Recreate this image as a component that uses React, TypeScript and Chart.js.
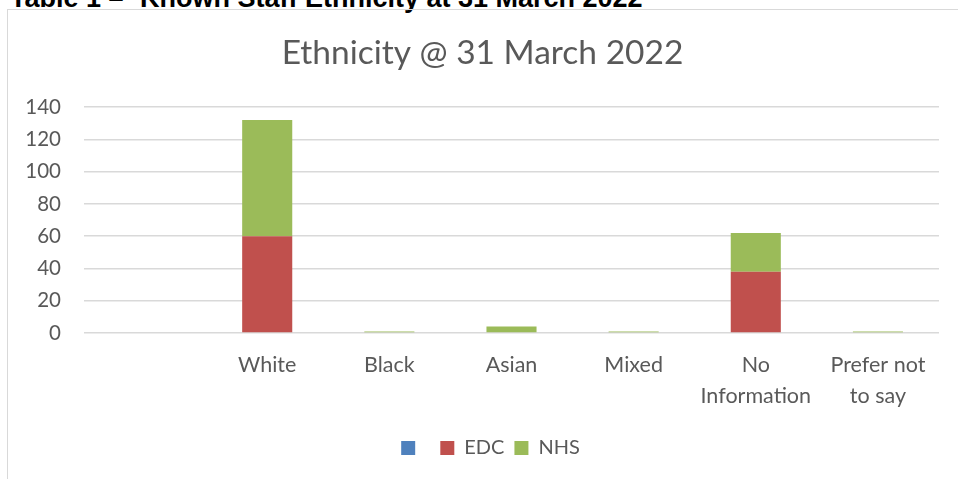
import React, { useEffect, useRef } from "react";
import { Chart, registerables } from "chart.js";

Chart.register(...registerables);

const categories: (string | string[])[] = ["", "White", "Black", "Asian", "Mixed", ["No", "Information"], ["Prefer not", "to say"]];
const blankValues: (number | null)[] = [null, null, null, null, null, null, null];
const edcValues: number[] = [0, 60, 0, 0, 0, 38, 0];
const nhsValues: number[] = [0, 72, 1, 4, 1, 24, 1];
const yTicks = { min: 0, max: 140, step: 20 };
const chartTitle = "Ethnicity @ 31 March 2022";
const seriesNames = [" ", "EDC", "NHS"];

const FONT = "Lato, 'Open Sans', sans-serif";
const GREY = "#595959";

// shift title / legend horizontally to match the reference's centring
const shiftPlugin = {
  id: "shiftBlocks",
  afterLayout(chart: any) {
    const t = chart.titleBlock;
    if (t) { t.left += 13; t.right += 13; }
    const l = chart.legend;
    if (l) { l.left += 21; l.right += 21; }
  },
};

export default function App() {
  const ref = useRef<HTMLCanvasElement | null>(null);

  useEffect(() => {
    if (!ref.current) return;
    const chart = new Chart(ref.current, {
      type: "bar",
      data: {
        labels: categories as any,
        datasets: [
          { label: seriesNames[0], data: blankValues, backgroundColor: "#4f81bd", stack: "s" },
          { label: seriesNames[1], data: edcValues, backgroundColor: "#c0504d", stack: "s" },
          { label: seriesNames[2], data: nhsValues, backgroundColor: "#9bbb59", stack: "s" },
        ],
      },
      plugins: [shiftPlugin],
      options: {
        animation: false,
        responsive: false,
        maintainAspectRatio: false,
        layout: { padding: { left: 0, right: 19, top: 0, bottom: 11 } },
        datasets: { bar: { categoryPercentage: 0.82, barPercentage: 0.5 } },
        plugins: {
          title: {
            display: true,
            text: chartTitle,
            color: GREY,
            font: { family: FONT, size: 33.5, weight: "normal", lineHeight: 1.2 },
            padding: { top: 33.5, bottom: 33.5 },
          },
          legend: {
            position: "bottom",
            labels: {
              color: GREY,
              font: { family: FONT, size: 20 },
              boxWidth: 14,
              boxHeight: 14,
              padding: 10,
            },
          },
          tooltip: { enabled: false },
        },
        scales: {
          x: {
            stacked: true,
            grid: { display: false, drawTicks: false },
            border: { display: false },
            ticks: {
              color: GREY,
              font: { family: FONT, size: 21.5, lineHeight: 1.45 },
              padding: 16,
              maxRotation: 0,
              autoSkip: false,
            },
            afterFit: (s: any) => { s.height = 95; },
          },
          y: {
            stacked: true,
            min: yTicks.min,
            max: yTicks.max,
            grid: { color: "#d9d9d9", lineWidth: 1.5, drawTicks: false },
            border: { display: false },
            ticks: {
              stepSize: yTicks.step,
              color: GREY,
              font: { family: FONT, size: 20.5 },
              padding: 23,
            },
            afterFit: (s: any) => { s.width = 84; },
          },
        },
      },
    });
    return () => chart.destroy();
  }, []);

  const headStyle: React.CSSProperties = {
    position: "absolute",
    top: -14,
    font: "bold 27px 'Liberation Sans', Arial, sans-serif",
    lineHeight: "24px",
    whiteSpace: "nowrap",
    color: "#000",
  };

  return (
    <div style={{ position: "fixed", left: 0, top: 0, width: 958, height: 479, overflow: "hidden", background: "#fff" }}>
      <div style={{ ...headStyle, left: 10 }}>Table 1 –</div>
      <div style={{ ...headStyle, left: 140 }}>Known Staff Ethnicity at 31 March 2022</div>
      <div style={{ position: "absolute", left: 7, top: 9, width: 980, height: 500, border: "1px solid #d9d9d9", boxSizing: "border-box" }} />
      <canvas ref={ref} width={958} height={479} style={{ position: "absolute", left: 0, top: 0, width: 958, height: 479 }} />
    </div>
  );
}
